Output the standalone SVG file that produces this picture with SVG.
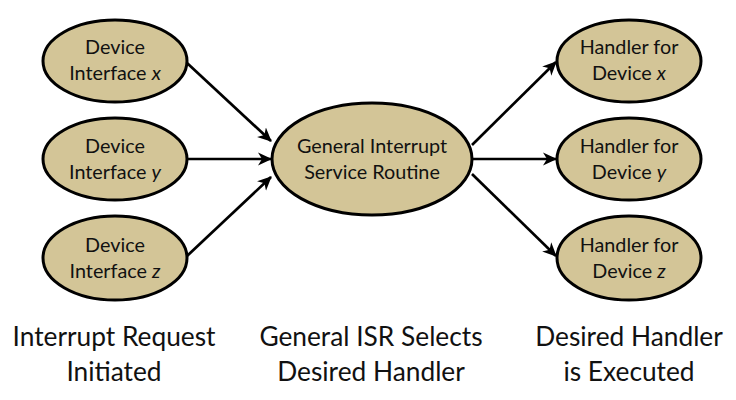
<svg xmlns="http://www.w3.org/2000/svg" width="736" height="400" viewBox="0 0 736 400">
<style>
.node ellipse{fill:#d3c597;stroke:#000;stroke-width:3}
.nt{font-family:Lato,"Liberation Sans",sans-serif;font-size:19.8px;fill:#111;text-anchor:middle}
.lb{font-family:Lato,"Liberation Sans",sans-serif;font-size:26.3px;fill:#111;text-anchor:middle}
.v{font-style:italic}
.conn line{stroke:#000;stroke-width:2.7;marker-end:url(#ah)}
</style>
<defs>
<marker id="ah" markerWidth="16" markerHeight="14" refX="13" refY="7" orient="auto" markerUnits="userSpaceOnUse">
<path d="M0,0.5 L14,7 L0,13.5 L4,7 Z" fill="#000"/>
</marker>
</defs>
<rect width="736" height="400" fill="#fff"/>
<g class="conn">
<line x1="187" y1="63" x2="271" y2="141"/>
<line x1="187" y1="159" x2="271" y2="159"/>
<line x1="187" y1="256" x2="271" y2="177"/>
<line x1="472" y1="145" x2="556" y2="62"/>
<line x1="472" y1="159" x2="556" y2="159"/>
<line x1="472" y1="174" x2="556" y2="256"/>
</g>
<g id="dev-x" class="node"><ellipse cx="115" cy="61" rx="72" ry="41"/><text class="nt" x="115" y="54">Device</text><text class="nt" x="115" y="80">Interface <tspan class="v">x</tspan></text></g>
<g id="dev-y" class="node"><ellipse cx="115" cy="159" rx="72" ry="41"/><text class="nt" x="115" y="153">Device</text><text class="nt" x="115" y="179">Interface <tspan class="v">y</tspan></text></g>
<g id="dev-z" class="node"><ellipse cx="115" cy="258" rx="72" ry="42"/><text class="nt" x="115" y="252">Device</text><text class="nt" x="115" y="278">Interface <tspan class="v">z</tspan></text></g>
<g id="gisr" class="node"><ellipse cx="372" cy="159" rx="100" ry="56"/><text class="nt" x="372" y="153">General Interrupt</text><text class="nt" x="372" y="179">Service Routine</text></g>
<g id="hand-x" class="node"><ellipse cx="629" cy="61" rx="72" ry="41"/><text class="nt" x="629" y="54">Handler for</text><text class="nt" x="629" y="80">Device <tspan class="v">x</tspan></text></g>
<g id="hand-y" class="node"><ellipse cx="629" cy="159" rx="72" ry="41"/><text class="nt" x="629" y="153">Handler for</text><text class="nt" x="629" y="179">Device <tspan class="v">y</tspan></text></g>
<g id="hand-z" class="node"><ellipse cx="629" cy="258" rx="72" ry="42"/><text class="nt" x="629" y="252">Handler for</text><text class="nt" x="629" y="278">Device <tspan class="v">z</tspan></text></g>
<g id="labels">
<text class="lb" x="114" y="346">Interrupt Request</text><text class="lb" x="114" y="381">Initiated</text>
<text class="lb" x="371" y="346">General ISR Selects</text><text class="lb" x="371" y="381">Desired Handler</text>
<text class="lb" x="629" y="346">Desired Handler</text><text class="lb" x="629" y="381">is Executed</text>
</g>
</svg>
